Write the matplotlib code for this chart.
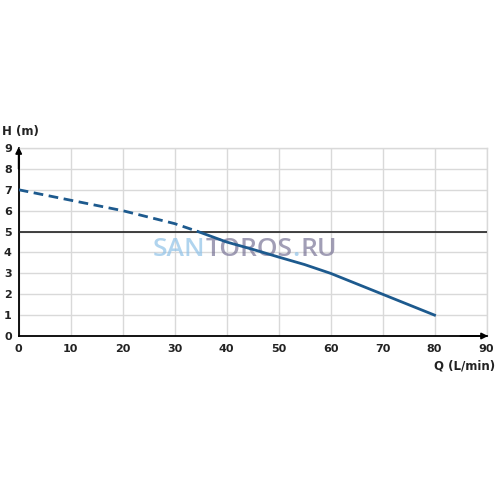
import matplotlib
matplotlib.use("Agg")
import matplotlib.pyplot as plt

# pump curve, dashed part (outside working range)
q_dash = [0, 10, 20, 30, 34.5]
h_dash = [7.0, 6.5, 6.0, 5.38, 5.0]

# solid part
q_solid = [34.5, 40, 45, 50, 55, 60, 70, 80]
h_solid = [5.0, 4.5, 4.15, 3.78, 3.42, 3.0, 2.0, 1.0]

ref_h = 5
x_ticks = [0, 10, 20, 30, 40, 50, 60, 70, 80, 90]
y_ticks = [0, 1, 2, 3, 4, 5, 6, 7, 8, 9]

curve_color = "#1d5a8e"
grid_color = "#d9d9d9"

plt.rcParams["font.family"] = ["DejaVu Sans"]

fig = plt.figure(figsize=(5, 5), dpi=100)
ax = fig.add_axes([0.0374, 0.328, 0.9356, 0.376])

ax.set_xlim(0, 90)
ax.set_ylim(0, 9)
ax.set_xticks(x_ticks)
ax.set_yticks(y_ticks)
ax.grid(True, color=grid_color, linewidth=1)
ax.set_axisbelow(True)

for s in ["top", "right"]:
    ax.spines[s].set_color(grid_color)
    ax.spines[s].set_linewidth(1)
for s in ["left", "bottom"]:
    ax.spines[s].set_color("black")
    ax.spines[s].set_linewidth(1.3)

ax.tick_params(length=0, pad=6)
ax.tick_params(axis="y", pad=5)
for lbl in ax.get_xticklabels() + ax.get_yticklabels():
    lbl.set_fontweight("bold")
    lbl.set_fontsize(8)
    lbl.set_color("#222222")

# arrows at axis ends
ax.annotate("", xy=(0, 9.05), xytext=(0, 8.0),
            arrowprops=dict(arrowstyle="-|>", color="black", lw=1.3,
                            mutation_scale=9, shrinkA=0, shrinkB=0),
            annotation_clip=False)
ax.annotate("", xy=(90.3, 0), xytext=(85, 0),
            arrowprops=dict(arrowstyle="-|>", color="black", lw=1.3,
                            mutation_scale=9, shrinkA=0, shrinkB=0),
            annotation_clip=False)

ax.axhline(ref_h, color="#222222", linewidth=1.2, zorder=3)

ax.plot(q_dash, h_dash, color=curve_color, linewidth=2, linestyle=(0, (3.5, 2)), zorder=4)
ax.plot(q_solid, h_solid, color=curve_color, linewidth=2, zorder=4)

fig.text(0.004, 0.738, "H (m)", fontsize=8.5, fontweight="bold", color="#222222",
         ha="left", va="center")
fig.text(0.99, 0.268, "Q (L/min)", fontsize=8.5, fontweight="bold", color="#222222",
         ha="right", va="center")

# watermark, drawn under the curve
wm_y = 0.502
parts = [("SAN", "#8fc2e8"), ("TOROS", "#7a7597"), (".", "#8fc2e8"), ("RU", "#7a7597")]
x0 = 0.306
renderer = fig.canvas.get_renderer()
for txt, col in parts:
    t = ax.text(x0, wm_y, txt, fontsize=19, color=col, alpha=0.7,
                family=["Open Sans", "DejaVu Sans"], fontweight="semibold",
                ha="left", va="center", zorder=3.5, transform=fig.transFigure)
    bb = t.get_window_extent(renderer=renderer)
    x0 += bb.width / fig.bbox.width

fig.savefig("out.png", dpi=100, facecolor="white")
